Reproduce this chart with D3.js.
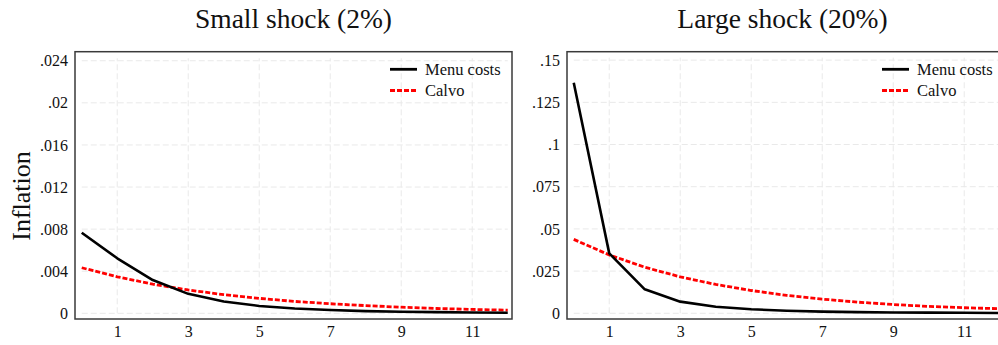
<!DOCTYPE html>
<html><head><meta charset="utf-8">
<script src="https://cdn.jsdelivr.net/npm/d3@7"></script>
<style>body{margin:0;background:#fff}svg{display:block}
svg text{font-family:"Liberation Serif","DejaVu Serif",serif;}</style>
</head><body>
<script>
const periods = [0,1,2,3,4,5,6,7,8,9,10,11,12];
const xTicks = [1,3,5,7,9,11];
const seriesNames = ["Menu costs","Calvo"];
const titles = ["Small shock (2%)","Large shock (20%)"];
const smallMenu  = [0.00766,0.00523,0.00316,0.00185,0.00112,0.00070,0.00046,0.00031,0.00021,0.00015,0.00011,0.00008,0.00006];
const smallCalvo = [0.00433,0.00347,0.00277,0.00222,0.00177,0.00142,0.00113,0.00091,0.00073,0.00058,0.00046,0.00037,0.00030];
const largeMenu  = [0.1366,0.0355,0.0142,0.0069,0.0039,0.0024,0.0015,0.0010,0.0007,0.0005,0.0004,0.0003,0.0002];
const largeCalvo = [0.0438,0.0346,0.0273,0.0216,0.0171,0.0135,0.0106,0.0084,0.0066,0.0052,0.0041,0.0033,0.0027];
const smallYTicks = [0,0.004,0.008,0.012,0.016,0.02,0.024];
const smallYLabels = ["0",".004",".008",".012",".016",".02",".024"];
const largeYTicks = [0,0.025,0.05,0.075,0.1,0.125,0.15];
const largeYLabels = ["0",".025",".05",".075",".1",".125",".15"];
const yLabel = "Inflation";

const W = 998, H = 345;
const svg = d3.select("body").append("svg").attr("width", W).attr("height", H);

const panels = [
  {x0:75, x1:512, menu:smallMenu, calvo:smallCalvo, yt:smallYTicks, yl:smallYLabels, ydom:[-0.00054,0.02486], title:titles[0]},
  {x0:567, x1:1004, menu:largeMenu, calvo:largeCalvo, yt:largeYTicks, yl:largeYLabels, ydom:[-0.00338,0.155], title:titles[1]}
];
const plotTop = 51.7, plotBottom = 319;

panels.forEach((p,i)=>{
  const x = d3.scaleLinear().domain([-0.19,12.12]).range([p.x0,p.x1]);
  const y = d3.scaleLinear().domain(p.ydom).range([plotBottom,plotTop]);
  const g = svg.append("g");
  const gx0 = x(periods[0]), gx1 = x(periods[periods.length-1]);
  const gy0 = y(p.yt[0]), gy1 = y(p.yt[p.yt.length-1]) - 2.5;
  g.selectAll("line.gy").data(p.yt).join("line")
    .attr("x1",gx0).attr("x2",gx1).attr("y1",d=>y(d)).attr("y2",d=>y(d))
    .attr("stroke","#e9e9e9").attr("stroke-width",1).attr("stroke-dasharray","6,3");
  g.selectAll("line.gx").data(xTicks).join("line")
    .attr("y1",gy0).attr("y2",gy1).attr("x1",d=>x(d)).attr("x2",d=>x(d))
    .attr("stroke","#e9e9e9").attr("stroke-width",1).attr("stroke-dasharray","6,3");
  const ya = d3.axisLeft(y).tickValues(p.yt).tickFormat((d,k)=>p.yl[k]).tickSize(0).tickPadding(7);
  const yg = g.append("g").attr("transform",`translate(${p.x0},0)`).call(ya);
  yg.select(".domain").remove();
  yg.attr("font-family",null).attr("font-size",null);
  yg.selectAll("text").attr("font-size",16).attr("fill","#111");
  const xa = d3.axisBottom(x).tickValues(xTicks).tickFormat(d3.format("d")).tickSize(0).tickPadding(7);
  const xg = g.append("g").attr("transform",`translate(0,${plotBottom})`).call(xa);
  xg.select(".domain").remove();
  xg.attr("font-family",null).attr("font-size",null);
  xg.selectAll("text").attr("font-size",16).attr("fill","#111");
  const line = d3.line().x((d,k)=>x(periods[k])).y(d=>y(d));
  g.append("path").datum(p.calvo).attr("d",line).attr("fill","none")
    .attr("stroke","#ff0000").attr("stroke-width",2.8).attr("stroke-dasharray","5,2");
  g.append("path").datum(p.menu).attr("d",line).attr("fill","none")
    .attr("stroke","#000").attr("stroke-width",2.6).attr("stroke-linejoin","round");
  g.append("rect").attr("x",p.x0).attr("y",plotTop).attr("width",p.x1-p.x0).attr("height",plotBottom-plotTop)
    .attr("fill","none").attr("stroke","#3a3a3a").attr("stroke-width",1.5);
  g.append("text").attr("x",(p.x0+p.x1)/2 + (i===1?-3:0)).attr("y",28).attr("text-anchor","middle")
    .attr("font-size",27.5).attr("fill","#111").text(p.title);
  const lx = p.x1 - 122;
  const lg = g.append("g");
  [{name:seriesNames[0],col:"#000",dash:null,y:69.3},{name:seriesNames[1],col:"#ff0000",dash:"5,2",y:90.5}].forEach(s=>{
    lg.append("line").attr("x1",lx).attr("x2",lx+27).attr("y1",s.y).attr("y2",s.y)
      .attr("stroke",s.col).attr("stroke-width",2.8).attr("stroke-dasharray",s.dash);
    lg.append("text").attr("x",lx+35).attr("y",s.y+5.5).attr("font-size",16.5)
      .attr("fill","#111").text(s.name);
  });
});
svg.append("text").attr("transform","translate(29.5,196) rotate(-90)").attr("text-anchor","middle")
  .attr("font-size",26).attr("fill","#111").text(yLabel);
</script>
</body></html>
